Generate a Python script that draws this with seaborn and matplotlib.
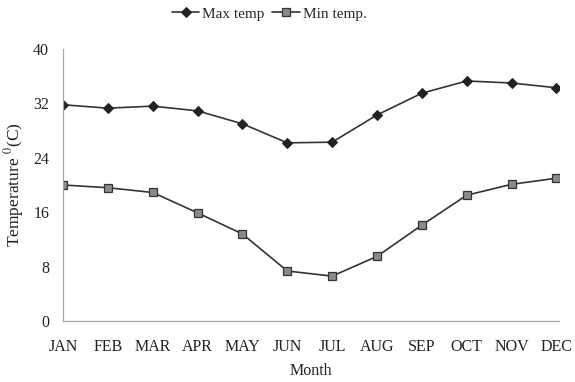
import pandas as pd
import matplotlib.pyplot as plt
import seaborn as sns

# valeurs
months = ['JAN', 'FEB', 'MAR', 'APR', 'MAY', 'JUN', 'JUL', 'AUG', 'SEP', 'OCT', 'NOV', 'DEC']
max_temp = [31.8, 31.3, 31.6, 30.9, 29.0, 26.2, 26.3, 30.3, 33.5, 35.3, 35.0, 34.3]
min_temp = [20.0, 19.6, 18.9, 15.9, 12.8, 7.35, 6.6, 9.5, 14.1, 18.5, 20.1, 21.0]
y_ticks = [0, 8, 16, 24, 32, 40]

df = pd.DataFrame({'Month': months, 'Max temp': max_temp, 'Min temp.': min_temp})

sns.set_style('white')
plt.rcParams['font.family'] = ['Liberation Serif', 'DejaVu Serif']
plt.rcParams['mathtext.fontset'] = 'stix'

fig = plt.figure(figsize=(5.75, 3.82), dpi=100)
ax = fig.add_axes([0.1096, 0.1597, 0.862, 0.712])

sns.lineplot(data=df, x='Month', y='Max temp', ax=ax, color='#333333', lw=1.2,
             marker='D', markersize=5, markerfacecolor='#222222',
             markeredgecolor='#222222', label='Max temp')
sns.lineplot(data=df, x='Month', y='Min temp.', ax=ax, color='#333333', lw=1.2,
             marker='s', markersize=5.5, markerfacecolor='#8a8a8a',
             markeredgecolor='#333333', markeredgewidth=0.9, label='Min temp.')

ax.set_xlim(0, len(months) - 1 + 0.05)
ax.set_ylim(0, 40)
ax.set_yticks(y_ticks)
ax.set_xticks(range(len(months)))
ax.set_xticklabels(months)

for s in ['top', 'right']:
    ax.spines[s].set_visible(False)
for s in ['left', 'bottom']:
    ax.spines[s].set_color('#aaaaaa')
    ax.spines[s].set_linewidth(0.9)

ax.tick_params(axis='both', direction='inout', length=6, width=0.8, colors='#aaaaaa',
               labelcolor='#222222', labelsize=11.5)
ax.tick_params(axis='x', pad=10)
ax.tick_params(axis='y', pad=7)

ax.set_xlabel('Month', fontsize=11.5, color='#222222', labelpad=6)
ax.set_ylabel(r'Temperature $^{0}$(C)', fontsize=12.5, color='#222222', labelpad=5)

ax.legend(loc='center', bbox_to_anchor=(0.416, 1.129), ncol=2, frameon=False,
          fontsize=11, handlelength=1.8, handletextpad=0.2, columnspacing=0.5)

fig.savefig('out.png', dpi=100)
